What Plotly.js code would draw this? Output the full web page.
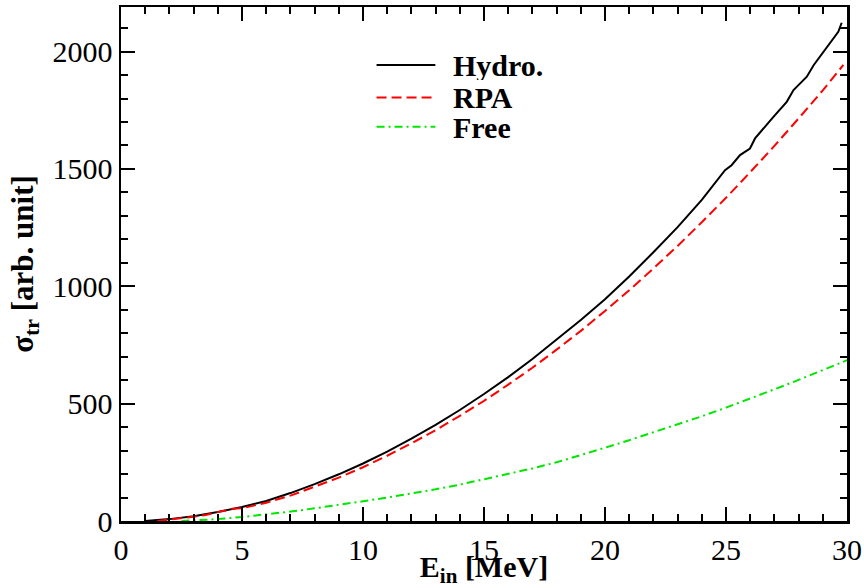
<!DOCTYPE html>
<html>
<head>
<meta charset="utf-8">
<script src="https://cdn.plot.ly/plotly-3.0.1.min.js"></script>
<style>html,body{margin:0;padding:0;background:#fff;}#chart{width:864px;height:588px;}</style>
</head>
<body>
<div id="chart"></div>
<script>
// Incident energy (MeV) and transport cross sections (arb. unit)
const hydroE = [1, 2, 3, 4, 5, 6, 7, 8, 9, 10, 11, 12, 13, 14, 15, 16, 17, 18, 19, 20, 21, 22, 23, 24, 24.41, 24.96, 25.23, 25.58, 25.99, 26.2, 26.96, 27.51, 27.79, 28.34, 28.62, 29.37, 29.64, 29.78];
const hydroS = [0, 8, 20, 38, 60, 85, 119, 157, 199, 245, 296, 351, 410, 473, 541, 613, 690, 771, 856, 945, 1042, 1145, 1252, 1368, 1424, 1495, 1516, 1559, 1587, 1630, 1722, 1786, 1836, 1893, 1942, 2050, 2084, 2123];

const rpaE = [1.5, 2, 3, 3.5, 4, 4.3, 4.6, 5, 6, 7, 8, 9, 10, 11, 12, 13, 14, 15, 16, 17, 18, 19, 20, 21, 22, 23, 24, 25, 26, 27, 28, 29, 29.85];
const rpaS = [0, 5, 18, 26, 38, 48, 52, 54, 78, 108, 145, 185, 229, 278, 331, 387, 448, 512, 581, 653, 730, 810, 895, 983, 1076, 1172, 1273, 1377, 1486, 1598, 1715, 1835, 1943];

const freeE = [2.5, 3, 4, 5, 6, 7, 8, 9, 10, 11, 12, 13, 14, 15, 16, 17, 18, 19, 20, 21, 22, 23, 24, 25, 26, 27, 28, 29, 30];
const freeS = [0, 2, 8, 17, 27, 40, 54, 68, 84, 100, 117, 135, 155, 177, 200, 224, 250, 280, 312, 344, 377, 411, 446, 483, 521, 561, 601, 642, 685];

const seriesNames = ['Hydro.', 'RPA', 'Free'];
const xTickVals = [0, 5, 10, 15, 20, 25, 30];
const yTickVals = [0, 500, 1000, 1500, 2000];

const serif = 'Liberation Serif, Times New Roman, serif';
const colors = ['#000000', '#ff0000', '#00e600'];
const dashes = ['solid', '10px,5px', '8px,4px,2px,4px'];

const traces = [
  {x: hydroE, y: hydroS, name: seriesNames[0], mode: 'lines', line: {color: colors[0], width: 2, dash: dashes[0]}, showlegend: false},
  {x: rpaE, y: rpaS, name: seriesNames[1], mode: 'lines', line: {color: colors[1], width: 2, dash: dashes[1]}, showlegend: false},
  {x: freeE, y: freeS, name: seriesNames[2], mode: 'lines', line: {color: colors[2], width: 2, dash: dashes[2]}, showlegend: false}
];

// Legend drawn as sample lines + text in paper coordinates
const legY = [0.887, 0.824, 0.767];
const shapes = [];
const annotations = [];
seriesNames.forEach((n, i) => {
  shapes.push({type: 'line', xref: 'paper', yref: 'paper', x0: 0.352, x1: 0.433, y0: legY[i], y1: legY[i],
    line: {color: colors[i], width: 2, dash: dashes[i]}});
  annotations.push({xref: 'paper', yref: 'paper', x: 0.455, y: legY[i], xanchor: 'left', yanchor: 'middle',
    height: 30, valign: 'middle',
    text: '<b>' + n + '</b>', showarrow: false, font: {family: serif, size: 30, color: '#000'}});
});

const axisCommon = {
  showline: true, linecolor: '#000', linewidth: 2.5, mirror: 'allticks',
  ticks: 'inside', ticklen: 14, tickwidth: 2, tickcolor: '#000',
  showgrid: false, zeroline: false,
  tickfont: {family: serif, size: 30, color: '#000'}
};

const layout = {
  width: 864, height: 588,
  margin: {l: 121, r: 17, t: 7, b: 67},
  paper_bgcolor: '#fff', plot_bgcolor: '#fff',
  showlegend: false,
  xaxis: Object.assign({}, axisCommon, {
    range: [0, 30], tickvals: xTickVals, ticktext: xTickVals.map(String),
    minor: {dtick: 1, tick0: 0, ticks: 'inside', ticklen: 7, tickwidth: 2, tickcolor: '#000', showgrid: false},
    title: {text: '<b>E<sub>in</sub> [MeV]</b>', font: {family: serif, size: 30, color: '#000'}, standoff: 5}
  }),
  yaxis: Object.assign({}, axisCommon, {
    range: [0, 2190], tickvals: yTickVals, ticktext: yTickVals.map(String),
    minor: {dtick: 100, tick0: 0, ticks: 'inside', ticklen: 7, tickwidth: 2, tickcolor: '#000', showgrid: false},
    title: {text: '<b>σ<sub>tr</sub> [arb. unit]</b>', font: {family: serif, size: 31, color: '#000'}, standoff: 10}
  }),
  shapes: shapes,
  annotations: annotations
};

Plotly.newPlot('chart', traces, layout, {displayModeBar: false, staticPlot: true});
</script>
</body>
</html>
